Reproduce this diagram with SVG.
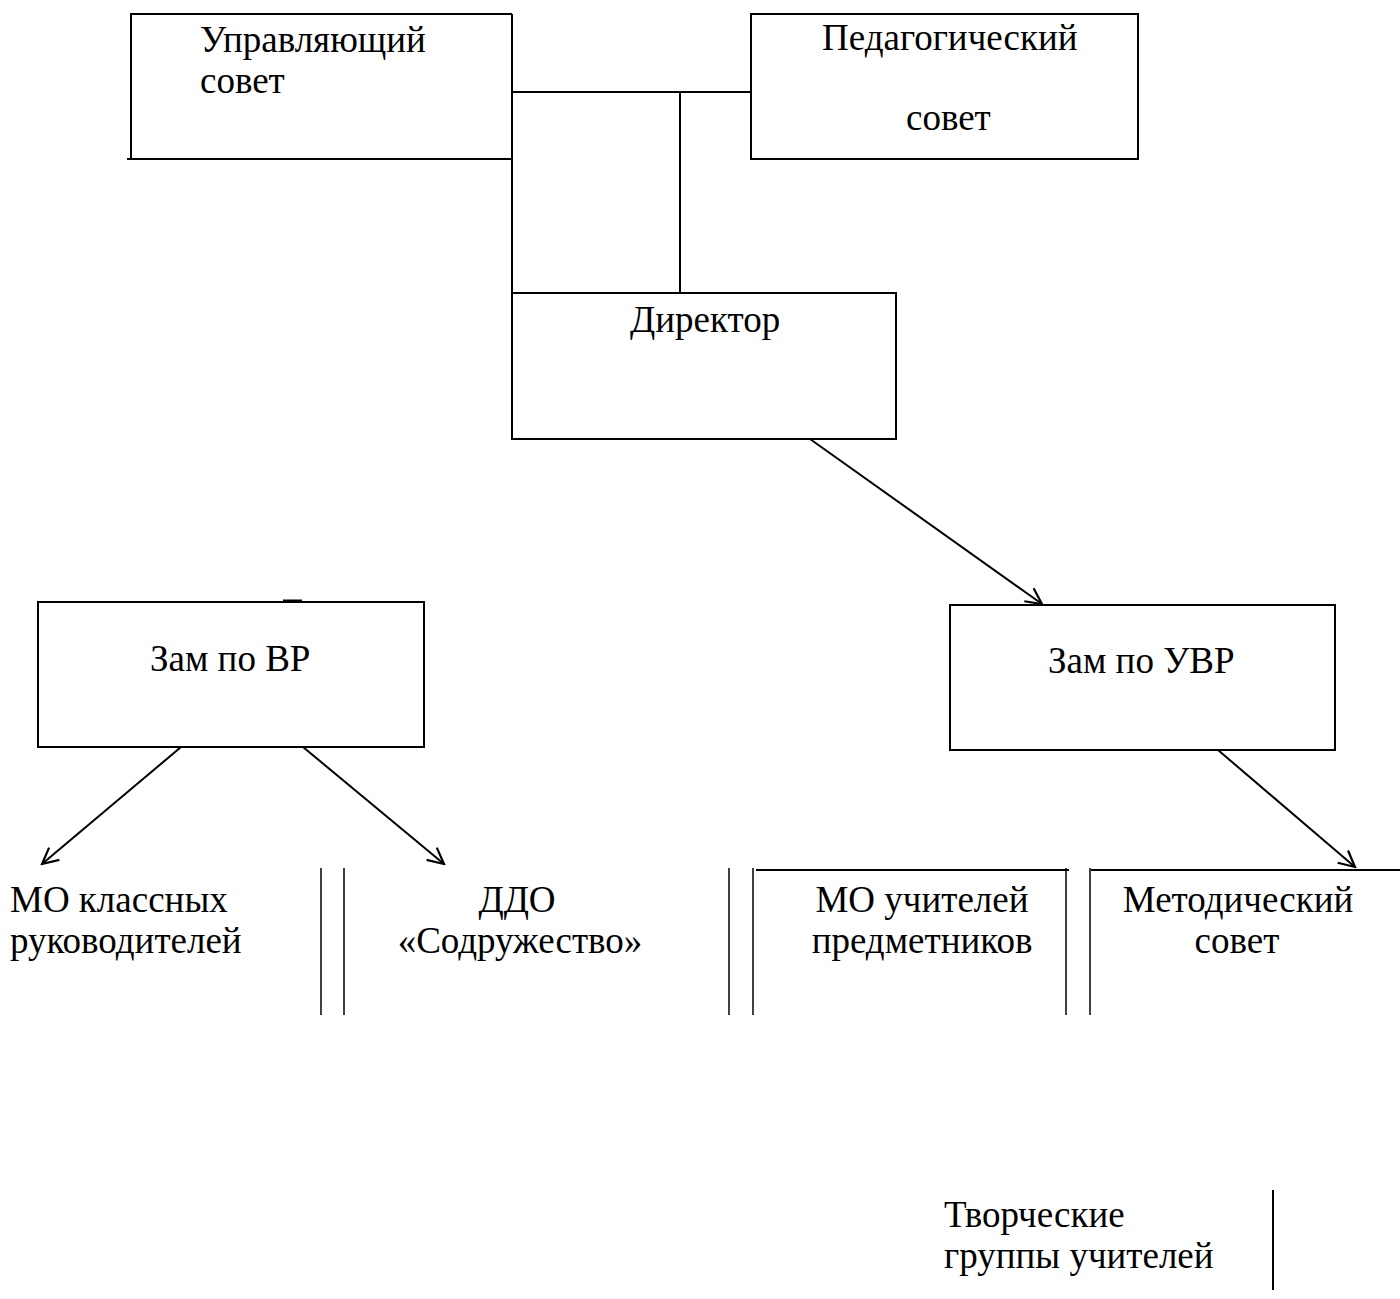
<svg xmlns="http://www.w3.org/2000/svg" width="1400" height="1299" viewBox="0 0 1400 1299">
<style>
.box{fill:none;stroke:#000;stroke-width:2}
.ln{fill:none;stroke:#000;stroke-width:2}
.thin{fill:none;stroke:#000;stroke-width:1.5}
text{font-family:"Liberation Serif","Times New Roman",serif;font-size:37px;fill:#000}
</style>
<defs>
<marker id="ah" viewBox="0 0 20 20" refX="18" refY="10" markerWidth="20" markerHeight="20" markerUnits="userSpaceOnUse" orient="auto">
<path d="M2,2 L18,10 L2,18" fill="none" stroke="#000" stroke-width="2.2"/>
</marker>
</defs>
<rect width="1400" height="1299" fill="#fff"/>
<g id="upr-sovet">
<path class="box" d="M131,159 V14 H512"/>
<line class="ln" x1="127" y1="159" x2="512" y2="159"/>
<text x="200" y="52">Управляющий</text>
<text x="200" y="93">совет</text>
</g>
<g id="ped-sovet">
<rect class="box" x="751" y="14" width="387" height="145"/>
<text x="822" y="50">Педагогический</text>
<text x="906" y="130">совет</text>
</g>
<g id="director">
<rect class="box" x="512" y="293" width="384" height="146"/>
<text x="630" y="332">Директор</text>
</g>
<g id="zam-vr">
<rect class="box" x="38" y="602" width="386" height="145"/>
<line x1="283" y1="601" x2="302" y2="601" stroke="#000" stroke-width="3"/>
<text x="150" y="671">Зам по ВР</text>
</g>
<g id="zam-uvr">
<rect class="box" x="950" y="605" width="385" height="145"/>
<text x="1048" y="673">Зам по УВР</text>
</g>
<g id="mo-klass">
<text x="10" y="912">МО классных</text>
<text x="10" y="953">руководителей</text>
</g>
<g id="ddo">
<text x="517" y="912" text-anchor="middle">ДДО</text>
<text x="520" y="953" text-anchor="middle">«Содружество»</text>
</g>
<g id="mo-uchit">
<text x="922" y="912" text-anchor="middle">МО учителей</text>
<text x="922" y="953" text-anchor="middle">предметников</text>
</g>
<g id="metod-sovet">
<text x="1238" y="912" text-anchor="middle">Методический</text>
<text x="1237" y="953" text-anchor="middle">совет</text>
</g>
<g id="tvorch">
<text x="944" y="1227">Творческие</text>
<text x="944" y="1268">группы учителей</text>
<line class="ln" x1="1273" y1="1190" x2="1273" y2="1290"/>
</g>
<g id="connectors">
<line class="ln" x1="512" y1="14" x2="512" y2="293"/>
<line class="ln" x1="512" y1="92" x2="751" y2="92"/>
<line class="ln" x1="680" y1="92" x2="680" y2="293"/>
<line class="ln" x1="810" y1="439" x2="1042" y2="604" marker-end="url(#ah)"/>
<line class="ln" x1="181" y1="747" x2="42" y2="864" marker-end="url(#ah)"/>
<line class="ln" x1="303" y1="747" x2="444" y2="864" marker-end="url(#ah)"/>
<line class="ln" x1="1218" y1="750" x2="1355" y2="867" marker-end="url(#ah)"/>
<line class="thin" x1="321" y1="868" x2="321" y2="1015"/>
<line class="thin" x1="344" y1="868" x2="344" y2="1015"/>
<line class="thin" x1="729" y1="868" x2="729" y2="1015"/>
<line class="thin" x1="753" y1="868" x2="753" y2="1015"/>
<line class="thin" x1="1066" y1="868" x2="1066" y2="1015"/>
<line class="thin" x1="1090" y1="868" x2="1090" y2="1015"/>
<line class="ln" x1="756" y1="870" x2="1069" y2="870"/>
<line class="ln" x1="1091" y1="870" x2="1400" y2="870"/>
</g>
</svg>
